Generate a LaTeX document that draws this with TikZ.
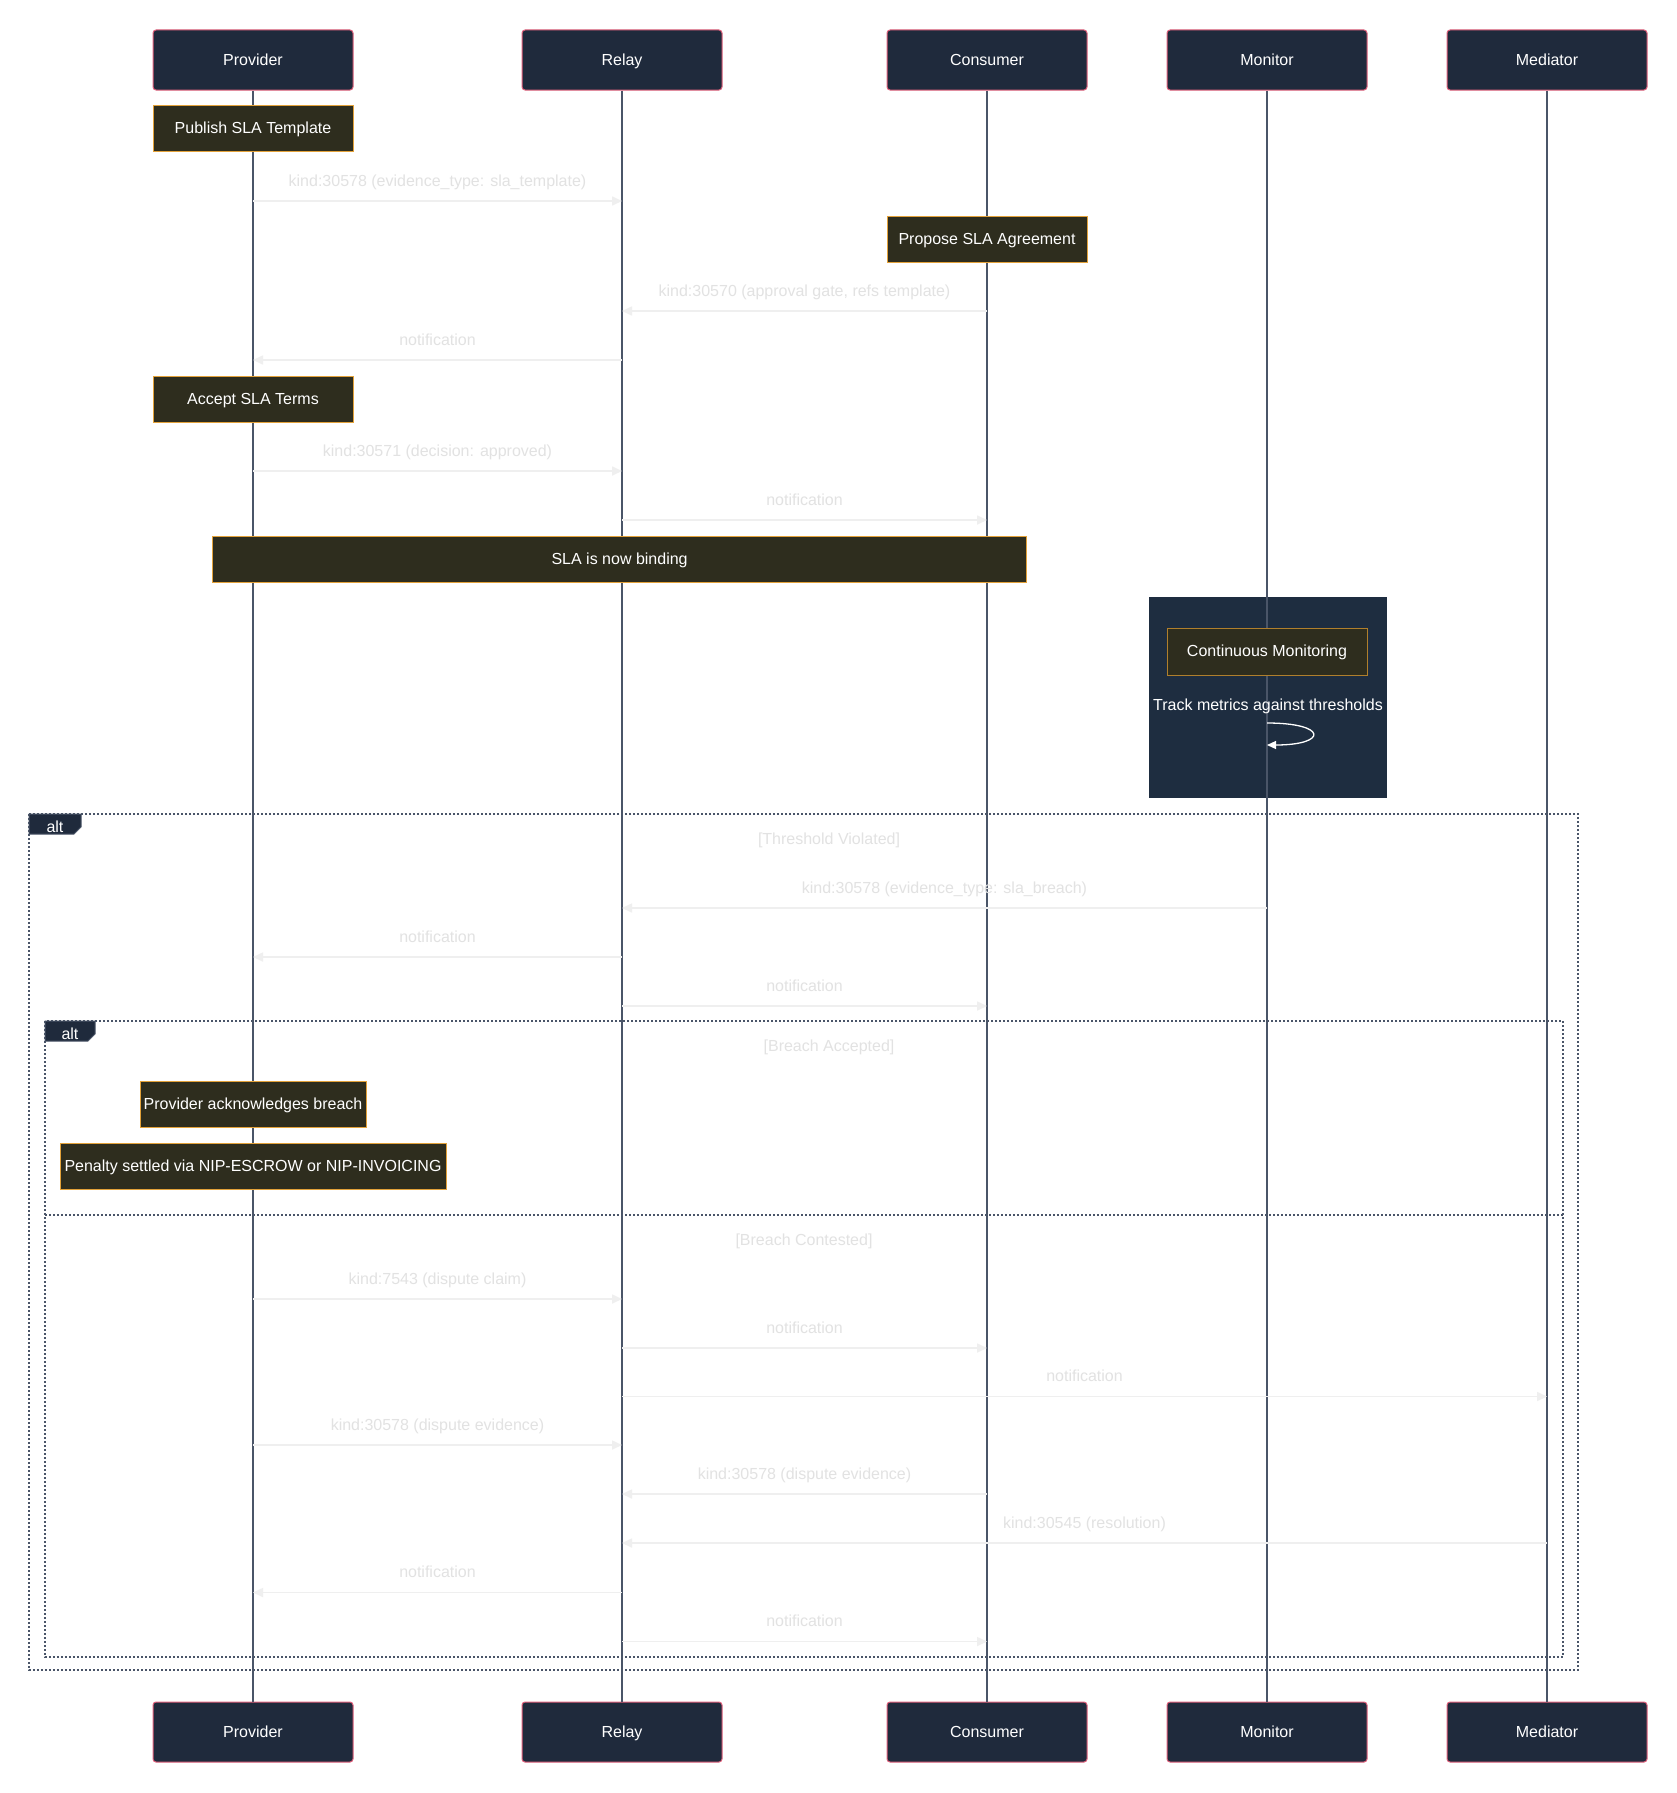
\documentclass[tikz,border=0pt]{standalone}
\usepackage{fontspec}
\setmainfont{Liberation Sans}
\usetikzlibrary{arrows.meta}
\definecolor{actf}{HTML}{1F2A3C}
\definecolor{actb}{HTML}{E0607C}
\definecolor{lifec}{HTML}{4A5568}
\definecolor{notef}{HTML}{2E2D1E}
\definecolor{noteb}{HTML}{E3A23A}
\definecolor{noteb2}{HTML}{B07F2C}
\definecolor{rectf}{HTML}{1E2D40}
\definecolor{msgc}{HTML}{EFEFEF}
\definecolor{msgt}{HTML}{E2E2E2}
\newcommand{\fsz}{\fontsize{16}{19}\selectfont}
\newcommand{\msgarrow}[4]{\draw[msgline] (#1.center |- 0,#3) -- (#2.center |- 0,#3) node[midway, yshift=20pt, msgtext] {#4};}
\begin{document}
\begin{tikzpicture}[x=1pt,y=-1pt,
  txt/.style={font=\fsz, text height=15pt, text depth=4.5pt},
  actor/.style={txt, draw=actb, fill=actf, rounded corners=3pt, minimum width=200pt, minimum height=60pt, text=white, line width=1pt},
  notebox/.style={txt, draw=noteb, fill=notef, minimum height=46pt, text=white, line width=1pt, inner sep=2pt},
  life/.style={draw=lifec, line width=2pt},
  msgline/.style={draw=msgc, line width=1.6pt, -{Triangle[length=10pt,width=9pt]}},
  msgtext/.style={txt, text=msgt},
  altframe/.style={draw=lifec, line width=1.6pt, dash pattern=on 2pt off 2pt},
  altlabel/.style={fill=actf, draw=lifec, line width=1pt},
  sect/.style={txt, text=msgt}]
\useasboundingbox (0,0) rectangle (1677,1793);
\fill[white] (0,0) rectangle (1677,1793);

% monitoring rect
\node[fill=rectf, minimum width=238pt, minimum height=201pt, inner sep=0pt] (loopbox) at (1268,697.5) {};

% participants
\node[actor] (pT) at (253,60) {Provider};
\node[actor] (rT) at (622,60) {Relay};
\node[actor] (cT) at (987,60) {Consumer};
\node[actor] (mT) at (1267,60) {Monitor};
\node[actor] (dT) at (1547,60) {Mediator};
\node[actor] (pB) at (253,1732) {Provider};
\node[actor] (rB) at (622,1732) {Relay};
\node[actor] (cB) at (987,1732) {Consumer};
\node[actor] (mB) at (1267,1732) {Monitor};
\node[actor] (dB) at (1547,1732) {Mediator};

% lifelines
\draw[life] (pT) -- (pB);
\draw[life] (rT) -- (rB);
\draw[life] (cT) -- (cB);
\draw[life] (mT) -- (mB);
\draw[life] (dT) -- (dB);

% alt frames
\draw[altframe] (29,814) rectangle (1578,1670);
\draw[altlabel] (29,814) -- (81,814) -- (81,827) -- (74,834) -- (29,834) -- cycle;
\node[txt, text=white] (alt1) at (55,827.5) {alt};
\node[sect] (s1) at (829,839) {[Threshold Violated]};

\draw[altframe] (45,1021) rectangle (1563,1657);
\draw[altlabel] (45,1021) -- (95,1021) -- (95,1034) -- (88,1041) -- (45,1041) -- cycle;
\node[txt, text=white] (alt2) at (70,1034.5) {alt};
\node[sect] (s2) at (829,1046) {[Breach Accepted]};
\draw[altframe] (45,1215) -- (1563,1215);
\node[sect] (s3) at (804,1240) {[Breach Contested]};

% messages
\msgarrow{pT}{rT}{201}{kind:30578 (evidence\_type: sla\_template)}
\msgarrow{cT}{rT}{311}{kind:30570 (approval gate, refs template)}
\msgarrow{rT}{pT}{360}{notification}
\msgarrow{pT}{rT}{471}{kind:30571 (decision: approved)}
\msgarrow{rT}{cT}{520}{notification}
\msgarrow{mT}{rT}{908}{kind:30578 (evidence\_type: sla\_breach)}
\msgarrow{rT}{pT}{957}{notification}
\msgarrow{rT}{cT}{1006}{notification}
\msgarrow{pT}{rT}{1299}{kind:7543 (dispute claim)}
\msgarrow{rT}{cT}{1348}{notification}
\msgarrow{rT}{dT}{1396.5}{notification}
\msgarrow{pT}{rT}{1445}{kind:30578 (dispute evidence)}
\msgarrow{cT}{rT}{1494}{kind:30578 (dispute evidence)}
\msgarrow{dT}{rT}{1543}{kind:30545 (resolution)}
\msgarrow{rT}{pT}{1592.5}{notification}
\msgarrow{rT}{cT}{1641.5}{notification}

% notes
\node[notebox, minimum width=200pt] (n1) at (253,128) {Publish SLA Template};
\node[notebox, minimum width=200pt] (n2) at (987,239) {Propose SLA Agreement};
\node[notebox, minimum width=200pt] (n3) at (253,399) {Accept SLA Terms};
\node[notebox, minimum width=814pt] (n4) at (619.6,559) {SLA is now binding};
\node[notebox, draw=noteb2, minimum width=200pt, minimum height=47pt] (n5) at (1267,651.5) {Continuous Monitoring};
\node[notebox, minimum width=226pt] (n6) at (253,1104) {Provider acknowledges breach};
\node[notebox, minimum width=386pt] (n7) at (253,1166.7) {Penalty settled via NIP-ESCROW or NIP-INVOICING};

% self message
\node[txt, text=white] (selft) at (1268,705) {Track metrics against thresholds};
\draw[white, line width=1.3pt, -{Triangle[length=9pt,width=8pt]}] (mT.center |- 0,723) .. controls (1328,723) and (1328,745) .. (mT.center |- 0,745);
\end{tikzpicture}
\end{document}
